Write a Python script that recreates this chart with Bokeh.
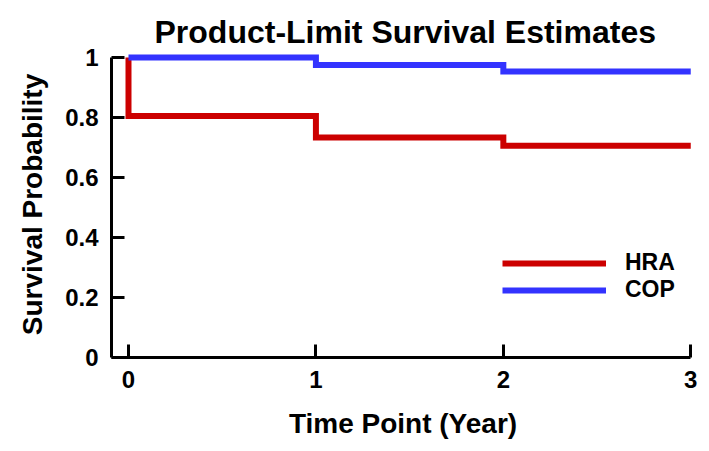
from bokeh.plotting import figure
from bokeh.models import Range1d, FixedTicker, Legend, LegendItem
from bokeh.embed import file_html
from bokeh.resources import INLINE

# ---- data ----
hra_time = [0, 0, 1, 2, 3]
hra_surv = [1.0, 0.805, 0.733, 0.706, 0.706]
cop_time = [0, 1, 2, 3]
cop_surv = [1.0, 0.975, 0.953, 0.953]
series_names = ["HRA", "COP"]
x_ticks = [0, 1, 2, 3]
y_ticks = [0, 0.2, 0.4, 0.6, 0.8, 1]
y_tick_labels = ["0", "0.2", "0.4", "0.6", "0.8", "1"]
title_text = "Product-Limit Survival Estimates"

FONT = "Liberation Sans"
RED = "#CC0000"
BLUE = "#3333FF"

p = figure(width=700, height=442, output_backend="svg", toolbar_location=None,
           x_range=Range1d(-0.0907, 3.02), y_range=Range1d(0, 1.02),
           min_border_left=111, min_border_right=6, min_border_top=51,
           min_border_bottom=85)

p.title.text = title_text
p.title.align = "left"
p.title.offset = 43
p.title.vertical_align = "top"
p.title.standoff = 0
p.title.text_font = FONT
p.title.text_font_size = "32px"
p.title.text_font_style = "bold"
p.title.text_color = "black"

p.outline_line_color = None
p.xgrid.visible = False
p.ygrid.visible = False

r1 = p.step(hra_time, hra_surv, mode="after", line_color=RED, line_width=6,
            line_join="miter")
r2 = p.step(cop_time, cop_surv, mode="after", line_color=BLUE, line_width=6,
            line_join="miter")

for ax in (p.xaxis[0], p.yaxis[0]):
    ax.axis_line_width = 3
    ax.axis_line_color = "black"
    ax.major_tick_line_width = 3
    ax.major_tick_line_color = "black"
    ax.major_tick_in = 13
    ax.major_tick_out = 0
    ax.minor_tick_line_color = None
    ax.major_label_text_font = FONT
    ax.major_label_text_font_style = "bold"
    ax.major_label_text_font_size = "24px"
    ax.major_label_text_color = "black"
    ax.axis_label_text_font = FONT
    ax.axis_label_text_font_style = "bold"
    ax.axis_label_text_font_size = "28px"
    ax.axis_label_text_color = "black"
    ax.major_label_standoff = 13

p.xaxis[0].ticker = FixedTicker(ticks=x_ticks)
p.xaxis[0].bounds = (-0.0907, 3)
p.xaxis[0].axis_label = "Time Point (Year)"
p.xaxis[0].axis_label_standoff = 17

p.yaxis[0].ticker = FixedTicker(ticks=y_ticks)
p.yaxis[0].major_label_overrides = {t: lab for t, lab in zip(y_ticks, y_tick_labels)}
p.yaxis[0].bounds = (0, 1)
p.yaxis[0].axis_label = "Survival Probability"
p.yaxis[0].axis_label_standoff = 14

legend = Legend(items=[LegendItem(label=series_names[0], renderers=[r1]),
                       LegendItem(label=series_names[1], renderers=[r2])],
                location=(391, 54), glyph_width=104, glyph_height=20,
                label_height=20, spacing=0, padding=0, margin=0,
                label_standoff=19, border_line_color=None,
                background_fill_alpha=0,
                label_text_font=FONT, label_text_font_style="bold",
                label_text_font_size="23px", label_text_color="black")
p.add_layout(legend)

open("out.html", "w").write(file_html(p, INLINE))
